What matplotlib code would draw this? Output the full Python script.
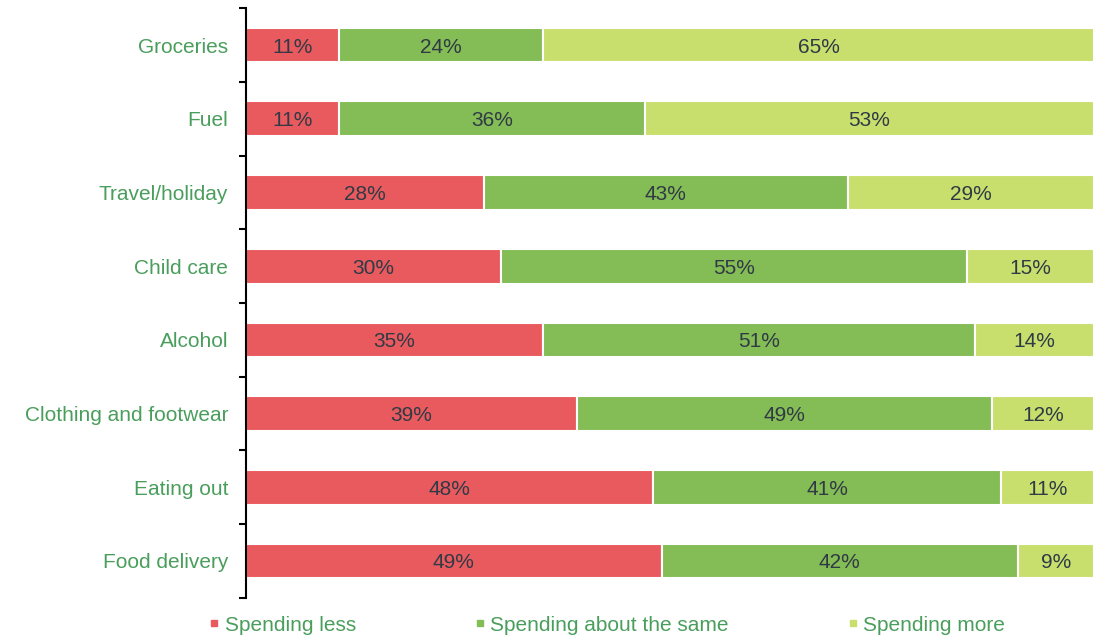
import numpy as np
import matplotlib.pyplot as plt
from matplotlib.lines import Line2D

plt.rcParams['font.family'] = ['Liberation Sans', 'DejaVu Sans']

# share of respondents by spending category
categories = ['Groceries', 'Fuel', 'Travel/holiday', 'Child care', 'Alcohol',
              'Clothing and footwear', 'Eating out', 'Food delivery']
spending_less = [11, 11, 28, 30, 35, 39, 48, 49]
spending_same = [24, 36, 43, 55, 51, 49, 41, 42]
spending_more = [65, 53, 29, 15, 14, 12, 11, 9]

series = [('Spending less', spending_less, '#E95A5F'),
          ('Spending about the same', spending_same, '#84BC55'),
          ('Spending more', spending_more, '#C8DF6E')]

label_green = '#4A9E5C'
value_color = '#2F3A45'

fig = plt.figure(figsize=(11.04, 6.36), dpi=100)
ax = fig.add_axes([0.223, 0.06, 0.768, 0.927])

y = np.arange(len(categories))
left = np.zeros(len(categories))
handles = []
for name, vals, color in series:
    vals = np.array(vals, dtype=float)
    bars = ax.barh(y, vals, left=left, height=0.47, color=color,
                   edgecolor='white', linewidth=1.5)
    for b, v in zip(bars, vals):
        ax.text(b.get_x() + b.get_width() / 2, b.get_y() + b.get_height() / 2,
                f'{int(v)}%', ha='center', va='center_baseline', fontsize=15,
                color=value_color)
    left += vals
    handles.append(Line2D([], [], marker='s', linestyle='none', markersize=5,
                          markerfacecolor=color, markeredgecolor=color, label=name))

ax.set_xlim(0, 100)
ax.set_ylim(len(categories) - 0.5, -0.5)
ax.set_yticks(y)
ax.set_yticklabels(categories, fontsize=15, color=label_green)
ax.set_yticks(np.arange(len(categories) + 1) - 0.5, minor=True)
ax.tick_params(axis='y', which='major', length=0, pad=13)
ax.tick_params(axis='y', which='minor', length=5, width=1.5, color='black')
ax.set_xticks([])
for side in ['top', 'right', 'bottom']:
    ax.spines[side].set_visible(False)
ax.spines['left'].set_linewidth(1.5)

leg = fig.legend(handles=handles, loc='center', bbox_to_anchor=(0.550, 0.017),
                 ncol=3, frameon=False, fontsize=15, handlelength=0.5,
                 handletextpad=0.25, columnspacing=5.7)
for t in leg.get_texts():
    t.set_color(label_green)

fig.savefig('out.png', dpi=100)
